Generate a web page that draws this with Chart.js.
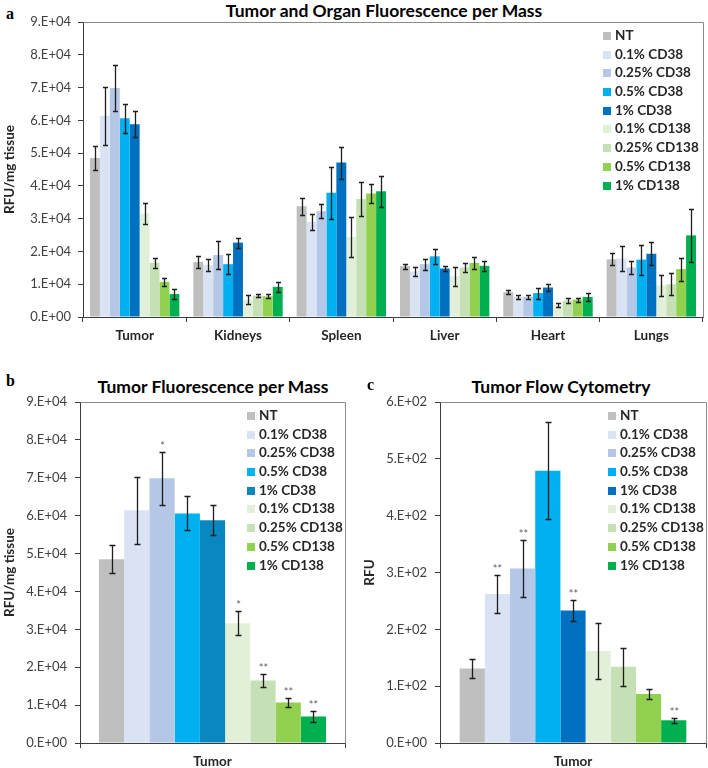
<!DOCTYPE html>
<html>
<head>
<meta charset="utf-8">
<script src="https://cdn.jsdelivr.net/npm/chart.js@4.4.1/dist/chart.umd.min.js"></script>
<style>
  body { margin: 0; background: #fff; font-family: Lato, "Open Sans", sans-serif; }
  #page { position: relative; width: 708px; height: 768px; overflow: hidden; }
  canvas { position: absolute; }
  .title { position: absolute; transform: translate(-50%, -50%); font-weight: bold; font-size: 17.5px; color: #000; white-space: nowrap; }
  .tag { position: absolute; font-family: "Liberation Serif", "DejaVu Serif", serif; font-weight: bold; font-size: 16px; }
  .legend { position: absolute; font-weight: bold; font-size: 13.5px; color: #262626; }
  .legend div { height: 18.7px; line-height: 18.7px; white-space: nowrap; }
  .legend span { display: inline-block; width: 8px; height: 8px; margin-right: 4px; vertical-align: 0px; }
</style>
</head>
<body>
<div id="page">
  <div class="tag" style="left:6px; top:5px;">a</div>
  <div class="title" style="left:384px; top:10px;">Tumor and Organ Fluorescence per Mass</div>
  <canvas id="chartA" width="708" height="350" style="left:0; top:0;"></canvas>
  <div class="legend" id="legendA" style="left:603px; top:26px;"></div>

  <div class="tag" style="left:6px; top:372px;">b</div>
  <div class="title" style="left:213px; top:386px;">Tumor Fluorescence per Mass</div>
  <canvas id="chartB" width="350" height="393" style="left:0; top:375px;"></canvas>
  <div class="legend" id="legendB" style="left:247px; top:406px;"></div>

  <div class="tag" style="left:367px; top:376px;">c</div>
  <div class="title" style="left:561px; top:386px;">Tumor Flow Cytometry</div>
  <canvas id="chartC" width="354" height="393" style="left:355px; top:375px;"></canvas>
  <div class="legend" id="legendC" style="left:608px; top:406px;"></div>
</div>
<script>
// categories and groups
const organs = ['Tumor', 'Kidneys', 'Spleen', 'Liver', 'Heart', 'Lungs'];
const groups = ['NT', '0.1% CD38', '0.25% CD38', '0.5% CD38', '1% CD38',
                '0.1% CD138', '0.25% CD138', '0.5% CD138', '1% CD138'];

// panel a: RFU/mg tissue per organ, one array per group
const nt       = [48500, 16800, 33800, 15500, 7600, 17600];
const cd38_01  = [61400, 15800, 29000, 13900, 6100, 17800];
const cd38_025 = [69900, 18900, 32300, 16100, 6100, 15100];
const cd38_05  = [60600, 16100, 37900, 18500, 7300, 17500];
const cd38_1   = [58800, 22700, 47100, 14800, 9000, 19300];
const cd138_01  = [31600, 5300, 24400, 12400, 3600, 9700];
const cd138_025 = [16500, 6500, 36000, 15100, 5000, 10000];
const cd138_05  = [10700, 6300, 37700, 16500, 5300, 14600];
const cd138_1   = [7000, 9200, 38400, 15600, 6100, 24900];

const nt_err       = [3700, 1800, 2600, 800, 700, 1800];
const cd38_01_err  = [8800, 1900, 2500, 1400, 700, 3800];
const cd38_025_err = [7000, 4300, 2200, 1700, 700, 2100];
const cd38_05_err  = [4500, 3100, 7900, 2300, 1700, 4600];
const cd38_1_err   = [4000, 1500, 4900, 800, 1100, 3500];
const cd138_01_err  = [3200, 1300, 6100, 2900, 700, 3200];
const cd138_025_err = [1600, 500, 5200, 1500, 700, 3300];
const cd138_05_err  = [1200, 600, 2800, 1800, 600, 3500];
const cd138_1_err   = [1400, 1600, 4700, 1600, 1200, 8000];

// panel b: tumor fluorescence per mass
const tumorMass     = [48500, 61400, 69900, 60600, 58800, 31600, 16500, 10700, 7000];
const tumorMassErr  = [3700, 8800, 7000, 4500, 4000, 3200, 1600, 1200, 1400];
const tumorMassSig  = ['', '', '*', '', '', '*', '**', '**', '**'];

// panel c: tumor flow cytometry
const tumorFlow     = [131, 262, 307, 479, 233, 162, 134, 86, 40];
const tumorFlowErr  = [17, 34, 50, 85, 18, 50, 33, 9, 4];
const tumorFlowSig  = ['', '**', '**', '', '**', '', '', '', '**'];

// tick labels
const ticksA = ['0.E+00', '1.E+04', '2.E+04', '3.E+04', '4.E+04', '5.E+04', '6.E+04', '7.E+04', '8.E+04', '9.E+04'];
const ticksC = ['0.E+00', '1.E+02', '2.E+02', '3.E+02', '4.E+02', '5.E+02', '6.E+02'];

const colorsA = ['#BFBFBF', '#DAE3F3', '#B4C7E7', '#00B0F0', '#0070C0', '#E2F0D9', '#C5E0B4', '#92D050', '#00B050'];
const colorsB = ['#BFBFBF', '#DAE3F3', '#B4C7E7', '#00B0F0', '#0888BE', '#E2F0D9', '#C5E0B4', '#92D050', '#00B050'];

const axisColor = '#3c3c3c';
const frameColor = '#8a8a8a';
const tickFont = { family: 'Lato', size: 13 };
const boldFont = { family: 'Lato', size: 13.5, weight: 'bold' };

// error bars and significance marks
const errorBars = {
  id: 'errorBars',
  afterDatasetsDraw(chart, args, opts) {
    const ctx = chart.ctx;
    const y = chart.scales.y;
    const cap = opts.cap || 3;
    chart.data.datasets.forEach((ds, i) => {
      const meta = chart.getDatasetMeta(i);
      meta.data.forEach((bar, j) => {
        const v = ds.data[j], e = ds.errors[j];
        const top = Math.round(y.getPixelForValue(v + e)) + 0.5;
        const bot = Math.round(y.getPixelForValue(v - e)) + 0.5;
        const x = Math.round(bar.x) + 0.5;
        ctx.save();
        ctx.strokeStyle = '#1e1e1e';
        ctx.lineWidth = 1.3;
        ctx.beginPath();
        ctx.moveTo(x, top); ctx.lineTo(x, bot);
        ctx.moveTo(x - cap, top); ctx.lineTo(x + cap, top);
        ctx.moveTo(x - cap, bot); ctx.lineTo(x + cap, bot);
        ctx.stroke();
        if (ds.marks && ds.marks[j]) {
          ctx.fillStyle = '#606060';
          ctx.font = '11px Lato';
          ctx.textAlign = 'center';
          ctx.textBaseline = 'bottom';
          ctx.fillText(ds.marks[j], x, top - 1);
        }
        ctx.restore();
      });
    });
  }
};

// grey top/right frame of the plot area
const plotFrame = {
  id: 'plotFrame',
  beforeDatasetsDraw(chart) {
    const { ctx, chartArea: a } = chart;
    ctx.save();
    ctx.strokeStyle = frameColor;
    ctx.lineWidth = 1;
    ctx.beginPath();
    ctx.moveTo(Math.round(a.left) + 0.5, Math.round(a.top) + 0.5);
    ctx.lineTo(Math.round(a.right) + 0.5, Math.round(a.top) + 0.5);
    ctx.lineTo(Math.round(a.right) + 0.5, Math.round(a.bottom) + 0.5);
    ctx.stroke();
    ctx.restore();
  }
};

function makeDatasets(values, errors, colors, marks) {
  return groups.map((g, i) => ({
    label: g,
    data: values[i],
    errors: errors[i],
    marks: marks ? marks[i] : null,
    backgroundColor: colors[i],
    borderWidth: 0,
    barPercentage: 1
  }));
}

function makeOptions(cfg) {
  return {
    responsive: false,
    animation: false,
    devicePixelRatio: 1,
    layout: { padding: cfg.padding },
    plugins: {
      legend: { display: false },
      tooltip: { enabled: false },
      errorBars: { cap: cfg.cap }
    },
    scales: {
      x: {
        grid: { drawOnChartArea: false, tickLength: 5, color: axisColor },
        border: { color: axisColor, width: 1 },
        ticks: { font: boldFont, color: '#262626', padding: 6 },
        afterFit(s) { s.height = cfg.xHeight; }
      },
      y: {
        min: 0,
        max: cfg.max,
        grid: { drawOnChartArea: false, tickLength: 5, color: axisColor },
        border: { color: axisColor, width: 1 },
        ticks: {
          stepSize: cfg.max / (cfg.ticks.length - 1),
          font: tickFont,
          color: '#404040',
          padding: cfg.tickPad,
          callback: (v, i) => cfg.ticks[i]
        },
        title: { display: true, text: cfg.yTitle, font: boldFont, color: '#262626', padding: { top: cfg.titlePad, bottom: 0 } },
        afterFit(s) { s.width = cfg.yWidth; }
      }
    }
  };
}

function buildLegend(id, colors) {
  const el = document.getElementById(id);
  groups.forEach((g, i) => {
    const row = document.createElement('div');
    row.innerHTML = '<span style="background:' + colors[i] + '"></span>' + g;
    el.appendChild(row);
  });
}

// panel a
new Chart(document.getElementById('chartA'), {
  type: 'bar',
  data: {
    labels: organs,
    datasets: makeDatasets(
      [nt, cd38_01, cd38_025, cd38_05, cd38_1, cd138_01, cd138_025, cd138_05, cd138_1],
      [nt_err, cd38_01_err, cd38_025_err, cd38_05_err, cd38_1_err, cd138_01_err, cd138_025_err, cd138_05_err, cd138_1_err],
      colorsA, null).map(d => Object.assign(d, { categoryPercentage: 0.865 }))
  },
  options: makeOptions({ padding: { top: 22, right: 5, left: 0, bottom: 0 }, xHeight: 33, yWidth: 83,
    max: 90000, ticks: ticksA, tickPad: 7, titlePad: 2, yTitle: 'RFU/mg tissue', cap: 2.5 }),
  plugins: [errorBars, plotFrame]
});

// panel b
new Chart(document.getElementById('chartB'), {
  type: 'bar',
  data: {
    labels: ['Tumor'],
    datasets: makeDatasets(tumorMass.map(v => [v]), tumorMassErr.map(v => [v]), colorsB,
      tumorMassSig.map(v => [v])).map(d => Object.assign(d, { categoryPercentage: 0.857 }))
  },
  options: makeOptions({ padding: { top: 27, right: 5, left: 0, bottom: 0 }, xHeight: 25, yWidth: 80,
    max: 90000, ticks: ticksA, tickPad: 8, titlePad: 2, yTitle: 'RFU/mg tissue', cap: 3 }),
  plugins: [errorBars, plotFrame]
});

// panel c
new Chart(document.getElementById('chartC'), {
  type: 'bar',
  data: {
    labels: ['Tumor'],
    datasets: makeDatasets(tumorFlow.map(v => [v]), tumorFlowErr.map(v => [v]), colorsA,
      tumorFlowSig.map(v => [v])).map(d => Object.assign(d, { categoryPercentage: 0.852 }))
  },
  options: makeOptions({ padding: { top: 27, right: 3, left: 0, bottom: 0 }, xHeight: 25, yWidth: 85,
    max: 600, ticks: ticksC, tickPad: 8, titlePad: 7, yTitle: 'RFU', cap: 3 }),
  plugins: [errorBars, plotFrame]
});

buildLegend('legendA', colorsA);
buildLegend('legendB', colorsB);
buildLegend('legendC', colorsA);
</script>
</body>
</html>
